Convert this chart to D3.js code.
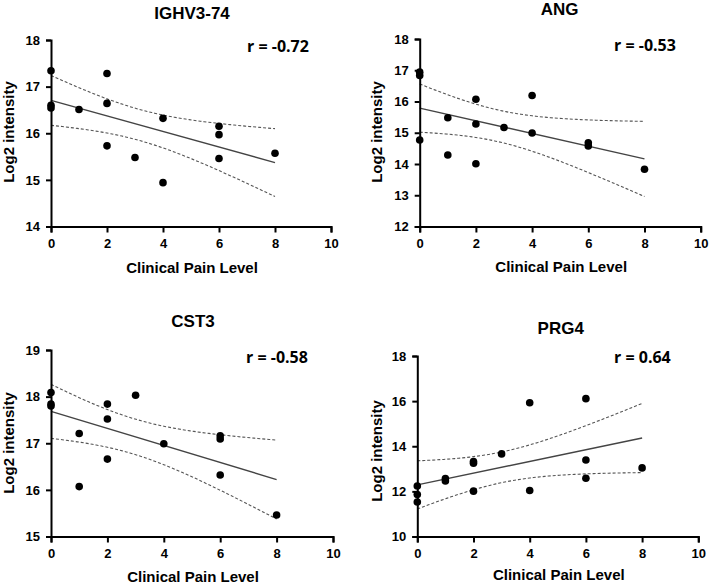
<!DOCTYPE html>
<html><head><meta charset="utf-8">
<script src="https://cdn.jsdelivr.net/npm/d3@7"></script>
<style>
html,body{margin:0;padding:0;background:#fff;}
svg{display:block;}
</style></head>
<body>
<svg id="chart" width="709" height="585"></svg>
<script>
// ---- Data ----
const titles = ["IGHV3-74", "ANG", "CST3", "PRG4"];
const rLabels = ["r = -0.72", "r = -0.53", "r = -0.58", "r = 0.64"];
const xTicks = [0, 2, 4, 6, 8, 10];
const yTicks1 = [14, 15, 16, 17, 18];
const yTicks2 = [12, 13, 14, 15, 16, 17, 18];
const yTicks3 = [15, 16, 17, 18, 19];
const yTicks4 = [10, 12, 14, 16, 18];

const painIGHV = [0, 0, 0, 1, 2, 2, 2, 3, 4, 4, 6, 6, 6, 8];
const valIGHV  = [17.34, 16.60, 16.54, 16.51, 17.28, 16.64, 15.73, 15.48, 16.32, 14.94, 16.15, 15.97, 15.46, 15.57];

const painANG = [0, 0, 0, 1, 1, 2, 2, 2, 3, 4, 4, 6, 6, 8];
const valANG  = [16.94, 16.83, 14.77, 15.48, 14.29, 16.07, 15.28, 14.01, 15.17, 16.19, 14.99, 14.68, 14.58, 13.83];

const painCST3 = [0, 0, 0, 1, 1, 2, 2, 2, 3, 4, 6, 6, 6, 8];
const valCST3  = [18.09, 17.84, 17.80, 17.21, 16.07, 17.84, 17.52, 16.66, 18.03, 16.99, 17.16, 17.09, 16.32, 15.46];

const painPRG4 = [0, 0, 0, 1, 1, 2, 2, 2, 3, 4, 4, 6, 6, 6, 8];
const valPRG4  = [12.24, 11.86, 11.53, 12.57, 12.46, 13.32, 13.25, 12.01, 13.66, 15.93, 12.04, 16.11, 13.39, 12.58, 13.04];

const xLabel = "Clinical Pain Level";
const yLabel = "Log2 intensity";

// ---- Layout ----
const panels = [
  {title: titles[0], r: rLabels[0], xs: painIGHV, ys: valIGHV, yTicks: yTicks1,
   x0: 51, x1: 331, yT: 40, yB: 226.5, titleX: 192, titleY: 18.5, rX: 247, rY: 51.5, yLabX: 13.5, yLabY: 132, xLabY: 273},
  {title: titles[1], r: rLabels[1], xs: painANG, ys: valANG, yTicks: yTicks2,
   x0: 419.7, x1: 700.7, yT: 39, yB: 226.5, titleX: 559.7, titleY: 15, rX: 614, rY: 50.5, yLabX: 382, yLabY: 132, xLabY: 272},
  {title: titles[2], r: rLabels[2], xs: painCST3, ys: valCST3, yTicks: yTicks3,
   x0: 51, x1: 333, yT: 350, yB: 536.5, titleX: 193, titleY: 327, rX: 246, rY: 362.7, yLabX: 14, yLabY: 443, xLabY: 581.5},
  {title: titles[3], r: rLabels[3], xs: painPRG4, ys: valPRG4, yTicks: yTicks4,
   x0: 417.3, x1: 698.3, yT: 356, yB: 536.5, titleX: 560.7, titleY: 334, rX: 614, rY: 363.3, yLabX: 382, yLabY: 451, xLabY: 580}
];

const tTable = {10: 2.2281, 11: 2.2010, 12: 2.1788, 13: 2.1604, 14: 2.1448, 15: 2.1314};

function regress(xs, ys) {
  const n = xs.length;
  const mx = d3.mean(xs), my = d3.mean(ys);
  let sxx = 0, sxy = 0, syy = 0;
  for (let i = 0; i < n; i++) {
    sxx += (xs[i] - mx) ** 2;
    sxy += (xs[i] - mx) * (ys[i] - my);
    syy += (ys[i] - my) ** 2;
  }
  const b = sxy / sxx, a = my - b * mx;
  const s = Math.sqrt((syy - sxy * sxy / sxx) / (n - 2));
  const t = tTable[n - 2] || 2.16;
  return {a, b, s, t, n, mx, sxx};
}

const svg = d3.select("#chart");
const font = "'Liberation Sans', Arial, Helvetica, sans-serif";

panels.forEach(p => {
  const xMax = d3.max(xTicks), yMin = d3.min(p.yTicks), yMax = d3.max(p.yTicks);
  const x = d3.scaleLinear().domain([0, xMax]).range([p.x0, p.x1]);
  const y = d3.scaleLinear().domain([yMin, yMax]).range([p.yB, p.yT]);
  const g = svg.append("g");

  // regression + CI
  const R = regress(p.xs, p.ys);
  const xmin = d3.min(p.xs), xmaxD = d3.max(p.xs);
  const grid = d3.range(0, 61).map(i => xmin + (xmaxD - xmin) * i / 60);
  const hw = xv => R.t * R.s * Math.sqrt(1 / R.n + (xv - R.mx) ** 2 / R.sxx);
  const line = d3.line().x(d => x(d[0])).y(d => y(d[1]));
  g.append("path").attr("d", line(grid.map(v => [v, R.a + R.b * v + hw(v)])))
    .attr("fill", "none").attr("stroke", "#555").attr("stroke-width", 1.1).attr("stroke-dasharray", "3,2");
  g.append("path").attr("d", line(grid.map(v => [v, R.a + R.b * v - hw(v)])))
    .attr("fill", "none").attr("stroke", "#555").attr("stroke-width", 1.1).attr("stroke-dasharray", "3,2");
  g.append("path").attr("d", line([[xmin, R.a + R.b * xmin], [xmaxD, R.a + R.b * xmaxD]]))
    .attr("fill", "none").attr("stroke", "#444").attr("stroke-width", 1.4);

  // points
  g.selectAll("circle.pt").data(p.xs.map((v, i) => [v, p.ys[i]])).enter()
    .append("circle").attr("class", "pt")
    .attr("cx", d => x(d[0])).attr("cy", d => y(d[1])).attr("r", 3.8).attr("fill", "#000");

  // axes
  const xAxis = d3.axisBottom(x).tickValues(xTicks).tickFormat(d3.format("d")).tickSize(6).tickPadding(4);
  const yAxis = d3.axisLeft(y).tickValues(p.yTicks).tickFormat(d3.format("d")).tickSize(5).tickPadding(6);
  const gx = g.append("g").attr("transform", `translate(0,${p.yB})`).call(xAxis);
  const gy = g.append("g").attr("transform", `translate(${p.x0},0)`).call(yAxis);
  [gx, gy].forEach(a => {
    a.select(".domain").attr("stroke", "#000").attr("stroke-width", 2);
    a.selectAll(".tick line").attr("stroke", "#000").attr("stroke-width", 2);
    a.selectAll(".tick text").attr("fill", "#000").style("font-family", font)
      .style("font-size", "13px").style("font-weight", "bold");
  });
  gx.selectAll(".tick text").attr("dy", "0.9em");

  // texts
  g.append("text").attr("x", p.titleX).attr("y", p.titleY).attr("text-anchor", "middle")
    .style("font-family", font).style("font-size", "17px").style("font-weight", "bold").text(p.title);
  g.append("text").attr("x", p.rX).attr("y", p.rY)
    .style("font-family", "'Open Sans', sans-serif").style("font-size", "16px").style("font-weight", "bold").text(p.r);
  g.append("text").attr("x", (p.x0 + p.x1) / 2 + 1).attr("y", p.xLabY).attr("text-anchor", "middle")
    .style("font-family", font).style("font-size", "15px").style("font-weight", "bold").text(xLabel);
  g.append("text").attr("transform", `translate(${p.yLabX},${p.yLabY}) rotate(-90)`).attr("text-anchor", "middle")
    .style("font-family", font).style("font-size", "15px").style("font-weight", "bold").text(yLabel);
});
</script>
</body></html>
